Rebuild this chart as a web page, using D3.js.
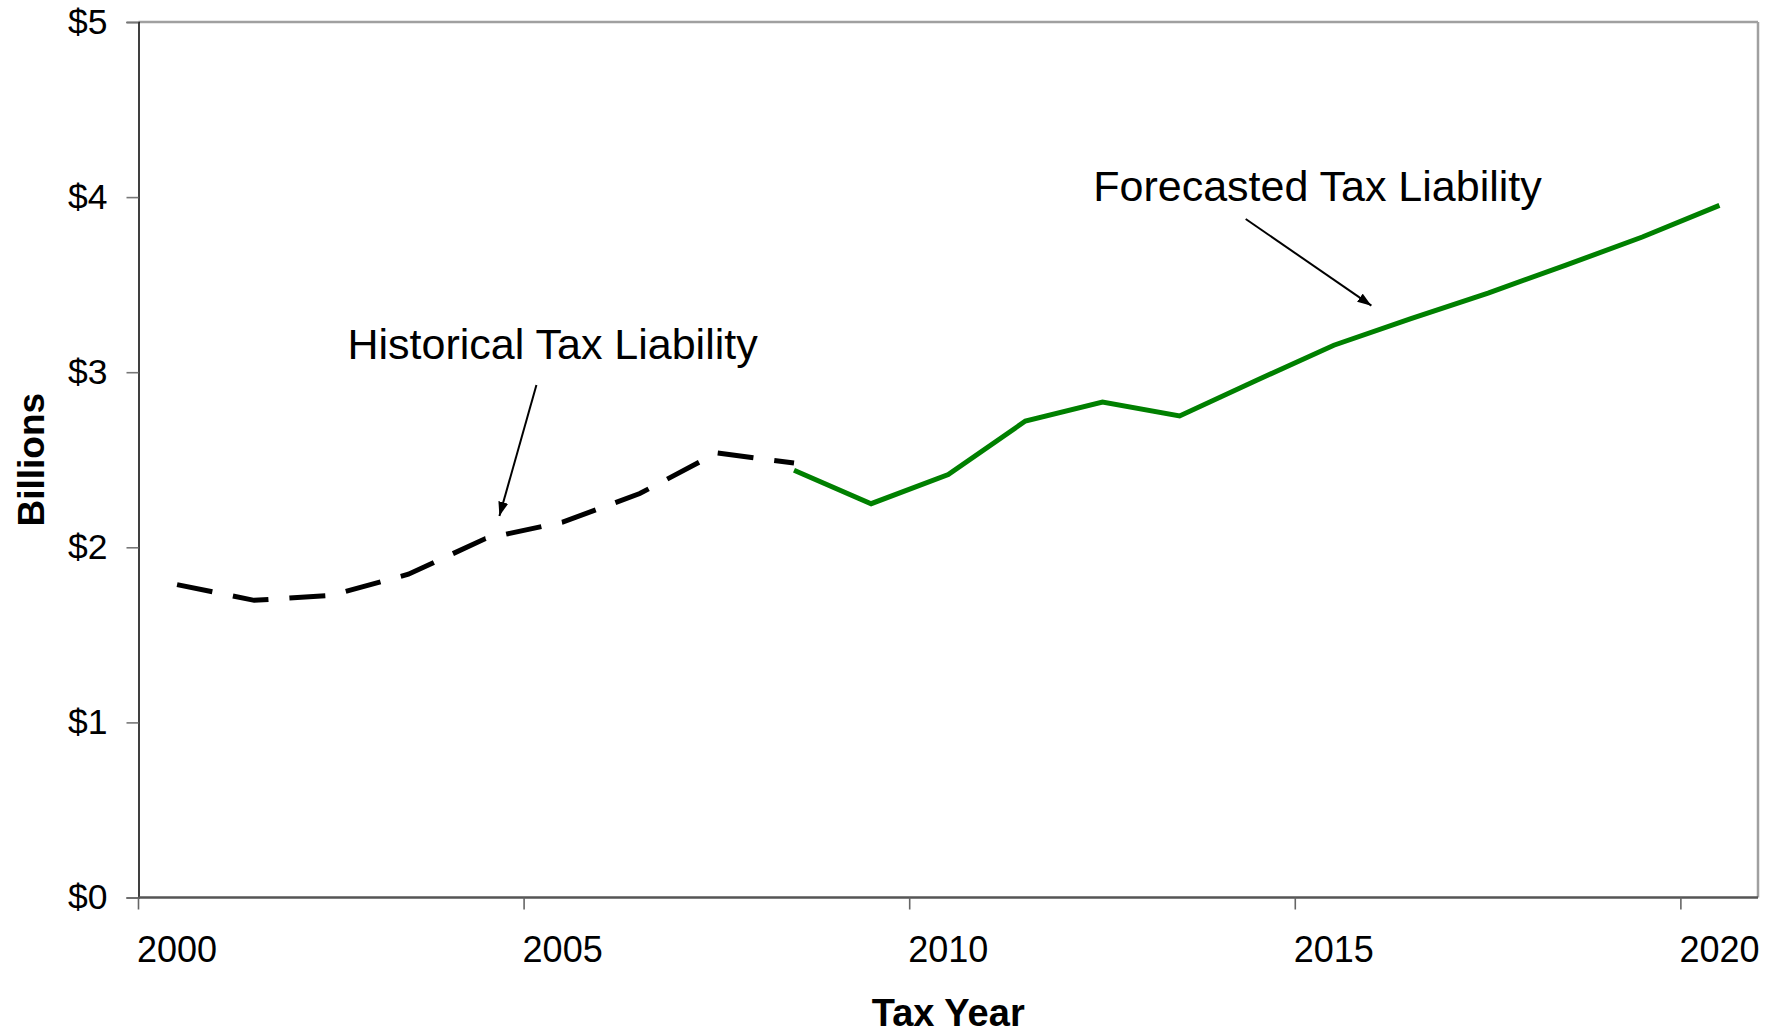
<!DOCTYPE html>
<html>
<head>
<meta charset="utf-8">
<script src="https://cdn.jsdelivr.net/npm/d3@7"></script>
<style>
  html, body { margin: 0; padding: 0; background: #fff; }
  svg { display: block; font-family: "Liberation Sans", Arial, Helvetica, sans-serif; }
</style>
</head>
<body>
<svg id="chart" width="1783" height="1034"></svg>
<script>
// ---- data ----
const histYears = [2000, 2001, 2002, 2003, 2004, 2005, 2006, 2007, 2008];
const histValues = [1.787, 1.697, 1.726, 1.846, 2.05, 2.144, 2.307, 2.539, 2.481];
const fcYears = [2008, 2009, 2010, 2011, 2012, 2013, 2014, 2015, 2016, 2017, 2018, 2019, 2020];
const fcValues = [2.44, 2.249, 2.415, 2.721, 2.83, 2.75, 2.954, 3.154, 3.306, 3.452, 3.61, 3.772, 3.953];
const xTickYears = [2000, 2005, 2010, 2015, 2020];
const yTicks = [0, 1, 2, 3, 4, 5];
const annotations = [
  { text: "Historical Tax Liability", x: 2002.71, y: 3.075, from: [2005.16, 2.927], to: [2004.68, 2.179] },
  { text: "Forecasted Tax Liability", x: 2012.38, y: 3.975, from: [2014.357, 3.875], to: [2015.987, 3.380] }
];

(function () {
// ---- layout ----
const svg = d3.select("#chart");
const mLeft = 138.5, mRight = 1758, mTop = 22, mBottom = 897.5;
const x = d3.scaleLinear().domain([2000, 2021]).range([mLeft, mRight]);
const y = d3.scaleLinear().domain([0, 5]).range([mBottom, mTop]);
const cx = yr => x(yr + 0.5); // category centre

// plot border (top / right in gray)
svg.append("line").attr("x1", mLeft).attr("x2", mRight).attr("y1", mTop).attr("y2", mTop)
  .attr("stroke", "#a0a0a0").attr("stroke-width", 2.5);
svg.append("line").attr("x1", mRight).attr("x2", mRight).attr("y1", mTop).attr("y2", mBottom)
  .attr("stroke", "#a0a0a0").attr("stroke-width", 2.5);

// y axis
const yAxis = d3.axisLeft(y).tickValues(yTicks).tickSize(12).tickPadding(19)
  .tickFormat(d => "$" + d);
const gy = svg.append("g").attr("transform", `translate(${mLeft},0)`).call(yAxis);
gy.select(".domain").attr("stroke", "#111").attr("stroke-width", 1.6);
gy.selectAll(".tick line").attr("stroke", "#777").attr("stroke-width", 1.6);
gy.selectAll(".tick text").attr("font-size", 35.5).attr("fill", "#000")
  .attr("font-family", "'Liberation Sans', Arial, sans-serif");

// x axis: tick marks between categories, labels at category centres
const gx = svg.append("g");
gx.append("line").attr("x1", mLeft).attr("x2", mRight).attr("y1", mBottom).attr("y2", mBottom)
  .attr("stroke", "#555").attr("stroke-width", 2.6);
gx.selectAll("line.tk").data(xTickYears).join("line").attr("class", "tk")
  .attr("x1", d => x(d)).attr("x2", d => x(d)).attr("y1", mBottom).attr("y2", mBottom + 12)
  .attr("stroke", "#666").attr("stroke-width", 1.6);
gx.selectAll("text").data(xTickYears).join("text")
  .attr("x", d => cx(d)).attr("y", 962).attr("text-anchor", "middle")
  .attr("font-size", 36).attr("fill", "#000").text(d => d);

// axis titles
svg.append("text").attr("x", (mLeft + mRight) / 2).attr("y", 1026).attr("text-anchor", "middle")
  .attr("font-size", 38).attr("font-weight", "bold").text("Tax Year");
svg.append("text").attr("transform", `translate(44,${(mTop + mBottom) / 2}) rotate(-90)`)
  .attr("text-anchor", "middle").attr("font-size", 37).attr("font-weight", "bold").text("Billions");

// lines
const line = d3.line().x(d => cx(d[0])).y(d => y(d[1]));
svg.append("path").datum(histYears.map((yr, i) => [yr, histValues[i]]))
  .attr("d", line).attr("fill", "none").attr("stroke", "#000").attr("stroke-width", 5)
  .attr("stroke-dasharray", "36,21").attr("stroke-linejoin", "miter");
svg.append("path").datum(fcYears.map((yr, i) => [yr, fcValues[i]]))
  .attr("d", line).attr("fill", "none").attr("stroke", "#008000").attr("stroke-width", 5)
  .attr("stroke-linejoin", "miter");

// annotations
const defs = svg.append("defs");
defs.append("marker").attr("id", "arrow").attr("viewBox", "0 0 14 10")
  .attr("refX", 14).attr("refY", 5).attr("markerWidth", 14).attr("markerHeight", 10)
  .attr("markerUnits", "userSpaceOnUse").attr("orient", "auto")
  .append("path").attr("d", "M0,0 L14,5 L0,10 Z").attr("fill", "#000");

annotations.forEach(a => {
  svg.append("text").attr("x", x(a.x)).attr("y", y(a.y)).attr("font-size", 43)
    .attr("fill", "#000").text(a.text);
  svg.append("line").attr("x1", x(a.from[0])).attr("y1", y(a.from[1]))
    .attr("x2", x(a.to[0])).attr("y2", y(a.to[1]))
    .attr("stroke", "#000").attr("stroke-width", 2).attr("marker-end", "url(#arrow)");
});
})();
</script>
</body>
</html>
